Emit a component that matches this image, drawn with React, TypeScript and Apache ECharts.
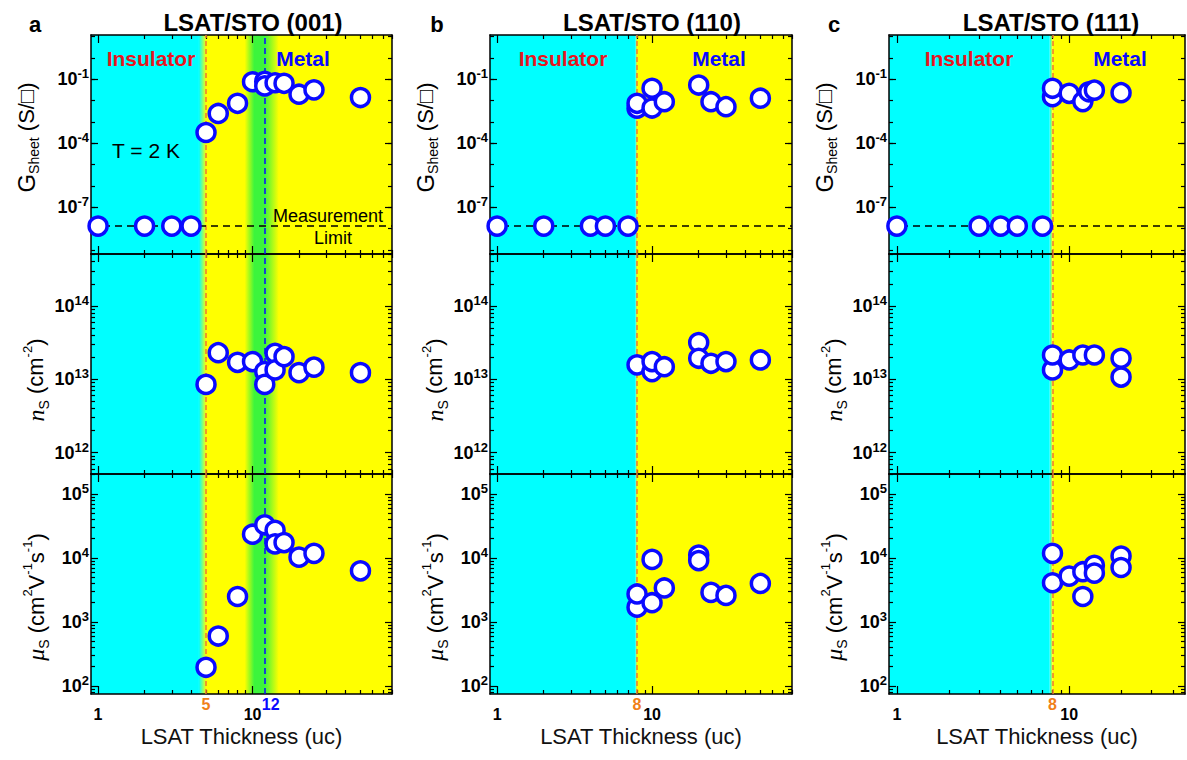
import React, { useEffect, useRef } from 'react';
import * as echarts from 'echarts';

// ---------------- data ----------------
const measurementLimit = 1.3e-8;

// (a) LSAT/STO (001)
const aGx = [1, 2, 3, 4, 5, 6, 8, 10, 12, 12, 14, 16, 20, 25, 50];
const aGy = [1.3e-8, 1.3e-8, 1.3e-8, 1.3e-8, 3.2e-4, 2.5e-3, 7.5e-3, 0.077, 0.08, 0.049, 0.069, 0.065, 0.02, 0.032, 0.014];
const aNx = [5, 6, 8, 10, 12, 12, 14, 14, 16, 20, 25, 50];
const aNy = [8.5e12, 2.3e13, 1.7e13, 1.74e13, 1.27e13, 8.5e12, 2.26e13, 1.34e13, 2.03e13, 1.23e13, 1.46e13, 1.23e13];
const aMx = [5, 6, 8, 10, 12, 14, 14, 16, 20, 25, 50];
const aMy = [196, 603, 2500, 23500, 33000, 27000, 16600, 17400, 10300, 11800, 6300];

// (b) LSAT/STO (110)
const bGx = [1, 2, 4, 5, 7, 8, 8, 10, 10, 12, 20, 24, 30, 50];
const bGy = [1.3e-8, 1.3e-8, 1.3e-8, 1.3e-8, 1.3e-8, 4.4e-3, 7.5e-3, 4.5e-3, 3.8e-2, 8.9e-3, 5.4e-2, 8.9e-3, 5.2e-3, 1.3e-2];
const bNx = [8, 10, 10, 12, 20, 20, 24, 30, 50];
const bNy = [1.57e13, 1.27e13, 1.74e13, 1.48e13, 3.16e13, 1.93e13, 1.65e13, 1.74e13, 1.83e13];
const bMx = [8, 8, 10, 10, 12, 20, 20, 24, 30, 50];
const bMy = [1700, 2740, 2000, 9500, 3400, 11100, 9100, 2900, 2600, 4000];

// (c) LSAT/STO (111)
const cGx = [1, 3, 4, 5, 7, 8, 8, 10, 12, 13, 14, 20];
const cGy = [1.3e-8, 1.3e-8, 1.3e-8, 1.3e-8, 1.3e-8, 0.0153, 0.038, 0.022, 0.009, 0.026, 0.031, 0.0236];
const cNx = [8, 8, 10, 12, 14, 20, 20];
const cNy = [1.34e13, 2.14e13, 1.83e13, 2.14e13, 2.14e13, 1.07e13, 1.93e13];
const cMx = [8, 8, 10, 12, 12, 14, 14, 20, 20];
const cMy = [4100, 11800, 5200, 2500, 6100, 7700, 5800, 10700, 7100];

// axis ranges and tick labels
const xRangeAB = [0.9, 80];
const xRangeC = [0.9, 47];
const gRange = [6.4e-10, 12];
const nRange = [5.1e11, 5.1e14];
const muRange = [75, 2.05e5];

const xLabelTicks = [1, 10];
const xMinorTicks = [2, 3, 4, 5, 6, 7, 8, 9, 20, 30, 40, 50, 60, 70, 80];
const gLabelTicks = [1e-7, 1e-4, 1e-1];
const gDecadeTicks = [1e-9, 1e-8, 1e-7, 1e-6, 1e-5, 1e-4, 1e-3, 1e-2, 1e-1, 1, 10];
const nLabelTicks = [1e12, 1e13, 1e14];
const muLabelTicks = [1e2, 1e3, 1e4, 1e5];

// ---------------- styles ----------------
const FONT = "'Liberation Sans', Arial, Helvetica, sans-serif";
const CYAN = '#00ffff';
const YELLOW = '#ffff00';
const GREEN = '#3cf53c';
const ORANGE = '#f07a30';
const ORANGE_TXT = '#f08018';
const BLUE = '#0a0aff';
const RED = '#e8141e';

const cols = [
  { left: 91, width: 301 },
  { left: 490, width: 302 },
  { left: 889, width: 296 },
];
const rowsLayout = [
  { top: 35, height: 219 },
  { top: 254, height: 220 },
  { top: 474, height: 220 },
];

function minorLogTicks(lo: number, hi: number): number[] {
  const out: number[] = [];
  for (let e = Math.floor(Math.log10(lo)); e <= Math.ceil(Math.log10(hi)); e++) {
    for (let m = 2; m <= 9; m++) {
      const v = m * Math.pow(10, e);
      if (v >= lo && v <= hi) out.push(v);
    }
  }
  return out;
}

const panels = [
  {
    letter: 'a', title: 'LSAT/STO (001)', xRange: xRangeAB,
    fadeStart: 4.5, boundary: 5, critical: 12, greenBand: [8.9, 14.8],
    extraLabels: [5, 12],
    data: [[aGx, aGy], [aNx, aNy], [aMx, aMy]],
    titleX: 253, letterX: 35, insX: 151, metX: 303,
  },
  {
    letter: 'b', title: 'LSAT/STO (110)', xRange: xRangeAB,
    fadeStart: 7.8, boundary: 8, critical: null, greenBand: null,
    extraLabels: [8],
    data: [[bGx, bGy], [bNx, bNy], [bMx, bMy]],
    titleX: 652, letterX: 437, insX: 563, metX: 719,
  },
  {
    letter: 'c', title: 'LSAT/STO (111)', xRange: xRangeC,
    fadeStart: 7.7, boundary: 8, critical: null, greenBand: null,
    extraLabels: [8],
    data: [[cGx, cGy], [cNx, cNy], [cMx, cMy]],
    titleX: 1051, letterX: 834, insX: 969, metX: 1120,
  },
];

const nameRich = {
  m: { fontSize: 22, fontFamily: FONT, color: '#000', lineHeight: 30 },
  g: { fontSize: 24, fontFamily: FONT, color: '#000', lineHeight: 30 },
  i: { fontSize: 24, fontFamily: 'Liberation Serif, serif', fontStyle: 'italic', color: '#000', lineHeight: 30 },
  sub: { fontSize: 14, fontFamily: FONT, color: '#000', lineHeight: 14, verticalAlign: 'bottom' },
  sup: { fontSize: 13, fontFamily: FONT, color: '#000', lineHeight: 13, verticalAlign: 'top' },
};

const rowDefs = [
  {
    range: gRange, labelTicks: gLabelTicks, majorTicks: gLabelTicks, minorTicks: gDecadeTicks,
    name: '{g|G}{sub|Sheet}{m| (S/□)}', nameGap: 50, namePad: [0, 0, 0, 14],
  },
  {
    range: nRange, labelTicks: nLabelTicks, majorTicks: nLabelTicks, minorTicks: minorLogTicks(nRange[0], nRange[1]),
    name: '{i|n}{sub|S}{m| (cm}{sup|-2}{m|)}', nameGap: 40, namePad: [0, 32, 0, 0],
  },
  {
    range: muRange, labelTicks: muLabelTicks, majorTicks: muLabelTicks, minorTicks: minorLogTicks(muRange[0], muRange[1]),
    name: '{i|μ}{sub|S}{m| (cm}{sup|2}{m|V}{sup|-1}{m|s}{sup|-1}{m|)}', nameGap: 40, namePad: [0, 26, 0, 0],
  },
];

function buildOption() {
  const grid: any[] = [];
  const xAxis: any[] = [];
  const yAxis: any[] = [];
  const series: any[] = [];
  const lineStyle = { color: '#000', width: 1.5 };
  const tickStyle = { color: '#000', width: 1.2 };

  panels.forEach((p, pi) => {
    rowDefs.forEach((rd, ri) => {
      const g = grid.length;
      grid.push({ left: cols[pi].left, top: rowsLayout[ri].top, width: cols[pi].width, height: rowsLayout[ri].height });
      const isBottom = ri === 2;
      const xBase = { gridIndex: g, type: 'log', min: p.xRange[0], max: p.xRange[1], splitLine: { show: false }, z: 3 };
      const xi = xAxis.length;
      xAxis.push({
        ...xBase, position: 'bottom',
        axisLine: { show: true, onZero: false, lineStyle },
        axisTick: { show: true, inside: true, length: 8, customValues: xLabelTicks, lineStyle: tickStyle },
        axisLabel: isBottom
          ? { show: true, customValues: xLabelTicks, margin: 12, formatter: (v: number) => String(Math.round(v)), fontSize: 16, fontWeight: 'bold', fontFamily: FONT, color: '#000' }
          : { show: false },
        name: isBottom ? 'LSAT Thickness (uc)' : '',
        nameLocation: 'middle', nameGap: 31,
        nameTextStyle: { fontSize: 22, fontFamily: FONT, color: '#111' },
      });
      xAxis.push({
        ...xBase, position: 'bottom',
        axisLine: { show: false, onZero: false },
        axisTick: { show: true, inside: true, length: 4, customValues: xMinorTicks, lineStyle: tickStyle },
        axisLabel: isBottom
          ? {
              show: true, customValues: p.extraLabels, margin: 2,
              formatter: (v: number) => (p.critical !== null && Math.abs(v - p.critical) < 1e-6 ? `{bl|${Math.round(v)}}` : `{o|${Math.round(v)}}`),
              rich: {
                o: { fontSize: 16, fontWeight: 'bold', fontFamily: FONT, color: ORANGE_TXT },
                bl: { fontSize: 16, fontWeight: 'bold', fontFamily: FONT, color: BLUE, padding: [0, 0, 0, 12] },
              },
            }
          : { show: false },
      });
      xAxis.push({
        ...xBase, position: 'top',
        axisLine: { show: true, onZero: false, lineStyle },
        axisTick: { show: true, inside: true, length: 8, customValues: xLabelTicks, lineStyle: tickStyle },
        axisLabel: { show: false },
      });
      xAxis.push({
        ...xBase, position: 'top',
        axisLine: { show: false, onZero: false },
        axisTick: { show: true, inside: true, length: 4, customValues: xMinorTicks, lineStyle: tickStyle },
        axisLabel: { show: false },
      });

      const yBase = { gridIndex: g, type: 'log', min: rd.range[0], max: rd.range[1], splitLine: { show: false }, z: 3 };
      const yi = yAxis.length;
      yAxis.push({
        ...yBase, position: 'left',
        axisLine: { show: true, onZero: false, lineStyle },
        axisTick: { show: true, inside: true, length: 7, customValues: rd.majorTicks, lineStyle: tickStyle },
        axisLabel: {
          show: true, customValues: rd.labelTicks, margin: 2,
          formatter: (v: number) => `{b|10}{s|${Math.round(Math.log10(v))}}`,
          rich: {
            b: { fontSize: 18, fontWeight: 'bold', fontFamily: FONT, color: '#000', lineHeight: 24 },
            s: { fontSize: 13, fontWeight: 'bold', fontFamily: FONT, color: '#000', lineHeight: 13, verticalAlign: 'top' },
          },
        },
        name: rd.name, nameLocation: 'middle', nameGap: rd.nameGap, nameRotate: 90,
        nameTextStyle: { rich: nameRich, padding: rd.namePad },
      });
      yAxis.push({
        ...yBase, position: 'left',
        axisLine: { show: false, onZero: false },
        axisTick: { show: true, inside: true, length: 4, customValues: rd.minorTicks, lineStyle: tickStyle },
        axisLabel: { show: false },
      });
      yAxis.push({
        ...yBase, position: 'right',
        axisLine: { show: true, onZero: false, lineStyle },
        axisTick: { show: true, inside: true, length: 7, customValues: rd.majorTicks, lineStyle: tickStyle },
        axisLabel: { show: false },
      });
      yAxis.push({
        ...yBase, position: 'right',
        axisLine: { show: false, onZero: false },
        axisTick: { show: true, inside: true, length: 4, customValues: rd.minorTicks, lineStyle: tickStyle },
        axisLabel: { show: false },
      });

      // background regions
      const areas: any[] = [
        [{ xAxis: p.xRange[0], itemStyle: { color: CYAN, opacity: 1 } }, { xAxis: p.fadeStart }],
        [{ xAxis: p.fadeStart, itemStyle: { opacity: 1, color: { type: 'linear', x: 0, y: 0, x2: 1, y2: 0, colorStops: [{ offset: 0, color: CYAN }, { offset: 1, color: YELLOW }] } } }, { xAxis: p.boundary }],
        [{ xAxis: p.boundary, itemStyle: { color: YELLOW, opacity: 1 } }, { xAxis: p.xRange[1] }],
      ];
      if (p.greenBand) {
        areas.push([
          {
            xAxis: p.greenBand[0],
            itemStyle: {
              opacity: 1,
              color: {
                type: 'linear', x: 0, y: 0, x2: 1, y2: 0,
                colorStops: [
                  { offset: 0, color: YELLOW },
                  { offset: 0.28, color: GREEN },
                  { offset: 0.58, color: GREEN },
                  { offset: 1, color: YELLOW },
                ],
              },
            },
          },
          { xAxis: p.greenBand[1] },
        ]);
      }
      const lines: any[] = [{ xAxis: p.boundary, lineStyle: { color: ORANGE, type: [5, 3], width: 1.5 } }];
      if (p.critical !== null) lines.push({ xAxis: p.critical, lineStyle: { color: BLUE, type: [6, 4], width: 1.5 } });

      series.push({
        type: 'line', xAxisIndex: xi, yAxisIndex: yi, data: [], silent: true,
        markArea: { silent: true, z: 1, data: areas },
        markLine: { silent: true, z: 4, symbol: ['none', 'none'], label: { show: false }, data: lines },
      });

      if (ri === 0) {
        // measurement limit (dashed horizontal line across the panel)
        series.push({
          type: 'line', xAxisIndex: xi, yAxisIndex: yi, z: 4, silent: true,
          symbol: 'none', showSymbol: false,
          lineStyle: { color: '#000', width: 1.5, type: [7, 5] },
          data: [[p.xRange[0], measurementLimit], [p.xRange[1], measurementLimit]],
        });
      }

      const [xs, ys] = p.data[ri];
      series.push({
        type: 'scatter', xAxisIndex: xi, yAxisIndex: yi, z: 10,
        symbol: 'circle', symbolSize: 18,
        itemStyle: { color: '#ffffff', borderColor: BLUE, borderWidth: 3.5, opacity: 1 },
        data: xs.map((x, k) => [x, ys[k]]),
      });
    });
  });

  const graphic: any[] = [];
  panels.forEach((p) => {
    graphic.push({ type: 'text', z: 20, x: p.titleX, y: 22, style: { text: p.title, font: `bold 24px ${FONT}`, fill: '#000', align: 'center', verticalAlign: 'middle' } });
    graphic.push({ type: 'text', z: 20, x: p.letterX, y: 24, style: { text: p.letter, font: `bold 22px ${FONT}`, fill: '#000', align: 'center', verticalAlign: 'middle' } });
    graphic.push({ type: 'text', z: 20, x: p.insX, y: 58, style: { text: 'Insulator', font: `bold 21px ${FONT}`, fill: RED, align: 'center', verticalAlign: 'middle' } });
    graphic.push({ type: 'text', z: 20, x: p.metX, y: 58, style: { text: 'Metal', font: `bold 21px ${FONT}`, fill: BLUE, align: 'center', verticalAlign: 'middle' } });
  });
  graphic.push({ type: 'text', z: 20, x: 146, y: 150, style: { text: 'T = 2 K', font: `21px ${FONT}`, fill: '#000', align: 'center', verticalAlign: 'middle' } });
  graphic.push({ type: 'text', z: 20, x: 328, y: 216, style: { text: 'Measurement', font: `18px ${FONT}`, fill: '#000', align: 'center', verticalAlign: 'middle' } });
  graphic.push({ type: 'text', z: 20, x: 333, y: 238, style: { text: 'Limit', font: `18px ${FONT}`, fill: '#000', align: 'center', verticalAlign: 'middle' } });

  return {
    animation: false,
    backgroundColor: '#ffffff',
    textStyle: { fontFamily: FONT },
    grid, xAxis, yAxis, series, graphic,
  };
}

export default function App() {
  const ref = useRef<HTMLDivElement>(null);
  useEffect(() => {
    if (!ref.current) return;
    const chart = echarts.init(ref.current, null, { renderer: 'svg' });
    chart.setOption(buildOption() as any);
    return () => chart.dispose();
  }, []);
  return (
    <div
      ref={ref}
      style={{ position: 'fixed', left: 0, top: 0, width: 1187, height: 760, background: '#fff' }}
    />
  );
}
